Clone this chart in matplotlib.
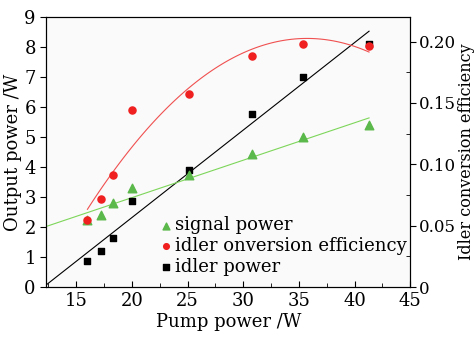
import numpy as np
import matplotlib
matplotlib.use("Agg")
import matplotlib.pyplot as plt
from matplotlib.ticker import MultipleLocator, FuncFormatter

plt.rcParams["font.family"] = ["DejaVu Serif"]

pump = [16.0, 17.2, 18.3, 20.0, 25.1, 30.8, 35.4, 41.3]
signal_power = [2.25, 2.4, 2.8, 3.3, 3.75, 4.45, 5.0, 5.4]
idler_power = [0.88, 1.22, 1.65, 2.87, 3.9, 5.78, 7.0, 8.1]
idler_eff = [0.055, 0.072, 0.091, 0.144, 0.157, 0.188, 0.198, 0.196]

fig, ax = plt.subplots(figsize=(4.77, 3.39), dpi=100)
fig.subplots_adjust(left=0.097, right=0.86, top=0.95, bottom=0.153)
ax.set_facecolor("#fafafa")
ax2 = ax.twinx()

xl = np.array([12.3, 41.3])
k, b = np.polyfit(pump, idler_power, 1)
ax.plot(xl, k * xl + b, color="black", lw=0.8)
k2, b2 = np.polyfit(pump, signal_power, 1)
ax.plot(xl, k2 * xl + b2, color="#7dd65a", lw=0.8)

sq = ax.scatter(pump, idler_power, marker="s", color="black", s=22, zorder=3)
tr = ax.scatter(pump, signal_power, marker="^", color="#5bb84a", s=38, zorder=3)

c = np.polyfit(pump, idler_eff, 2)
xc = np.linspace(16, 41.3, 100)
ax2.plot(xc, np.polyval(c, xc), color="#f05050", lw=0.8)
ci = ax2.scatter(pump, idler_eff, marker="o", color="#f02020", s=26, zorder=3)

ax.set_xlim(12.3, 45)
ax.set_ylim(0, 9)
ax2.set_ylim(0, 0.22)

ax.xaxis.set_major_locator(MultipleLocator(5))
ax.xaxis.set_minor_locator(MultipleLocator(2.5))
ax.yaxis.set_major_locator(MultipleLocator(1))
ax2.yaxis.set_major_locator(MultipleLocator(0.05))
ax2.yaxis.set_minor_locator(MultipleLocator(0.025))
ax2.yaxis.set_major_formatter(FuncFormatter(lambda v, p: "0" if v == 0 else f"{v:.2f}"))

ax.tick_params(axis="x", direction="in", labelsize=13, length=4)
ax.tick_params(axis="x", which="minor", direction="in", length=3)
ax.tick_params(axis="y", direction="out", labelsize=13, length=4)
ax2.tick_params(axis="y", direction="out", labelsize=12, length=4, pad=2)
ax2.tick_params(axis="y", which="minor", direction="in", length=3)

ax.set_xlabel("Pump power /W", fontsize=13, labelpad=2)
ax.set_ylabel("Output power /W", fontsize=13, labelpad=2)
ax2.set_ylabel("Idler conversion efficiency", fontsize=11.5)
ax2.yaxis.set_label_coords(1.13, 0.5)

fig.legend([tr, ci, sq], ["signal power", "idler onversion efficiency", "idler power"],
           loc="lower left", bbox_to_anchor=(0.31, 0.16), frameon=False,
           fontsize=13, handletextpad=0.0, labelspacing=0.15, borderpad=0,
           handlelength=1.0, markerscale=0.8)

fig.savefig("out.png", dpi=100)
